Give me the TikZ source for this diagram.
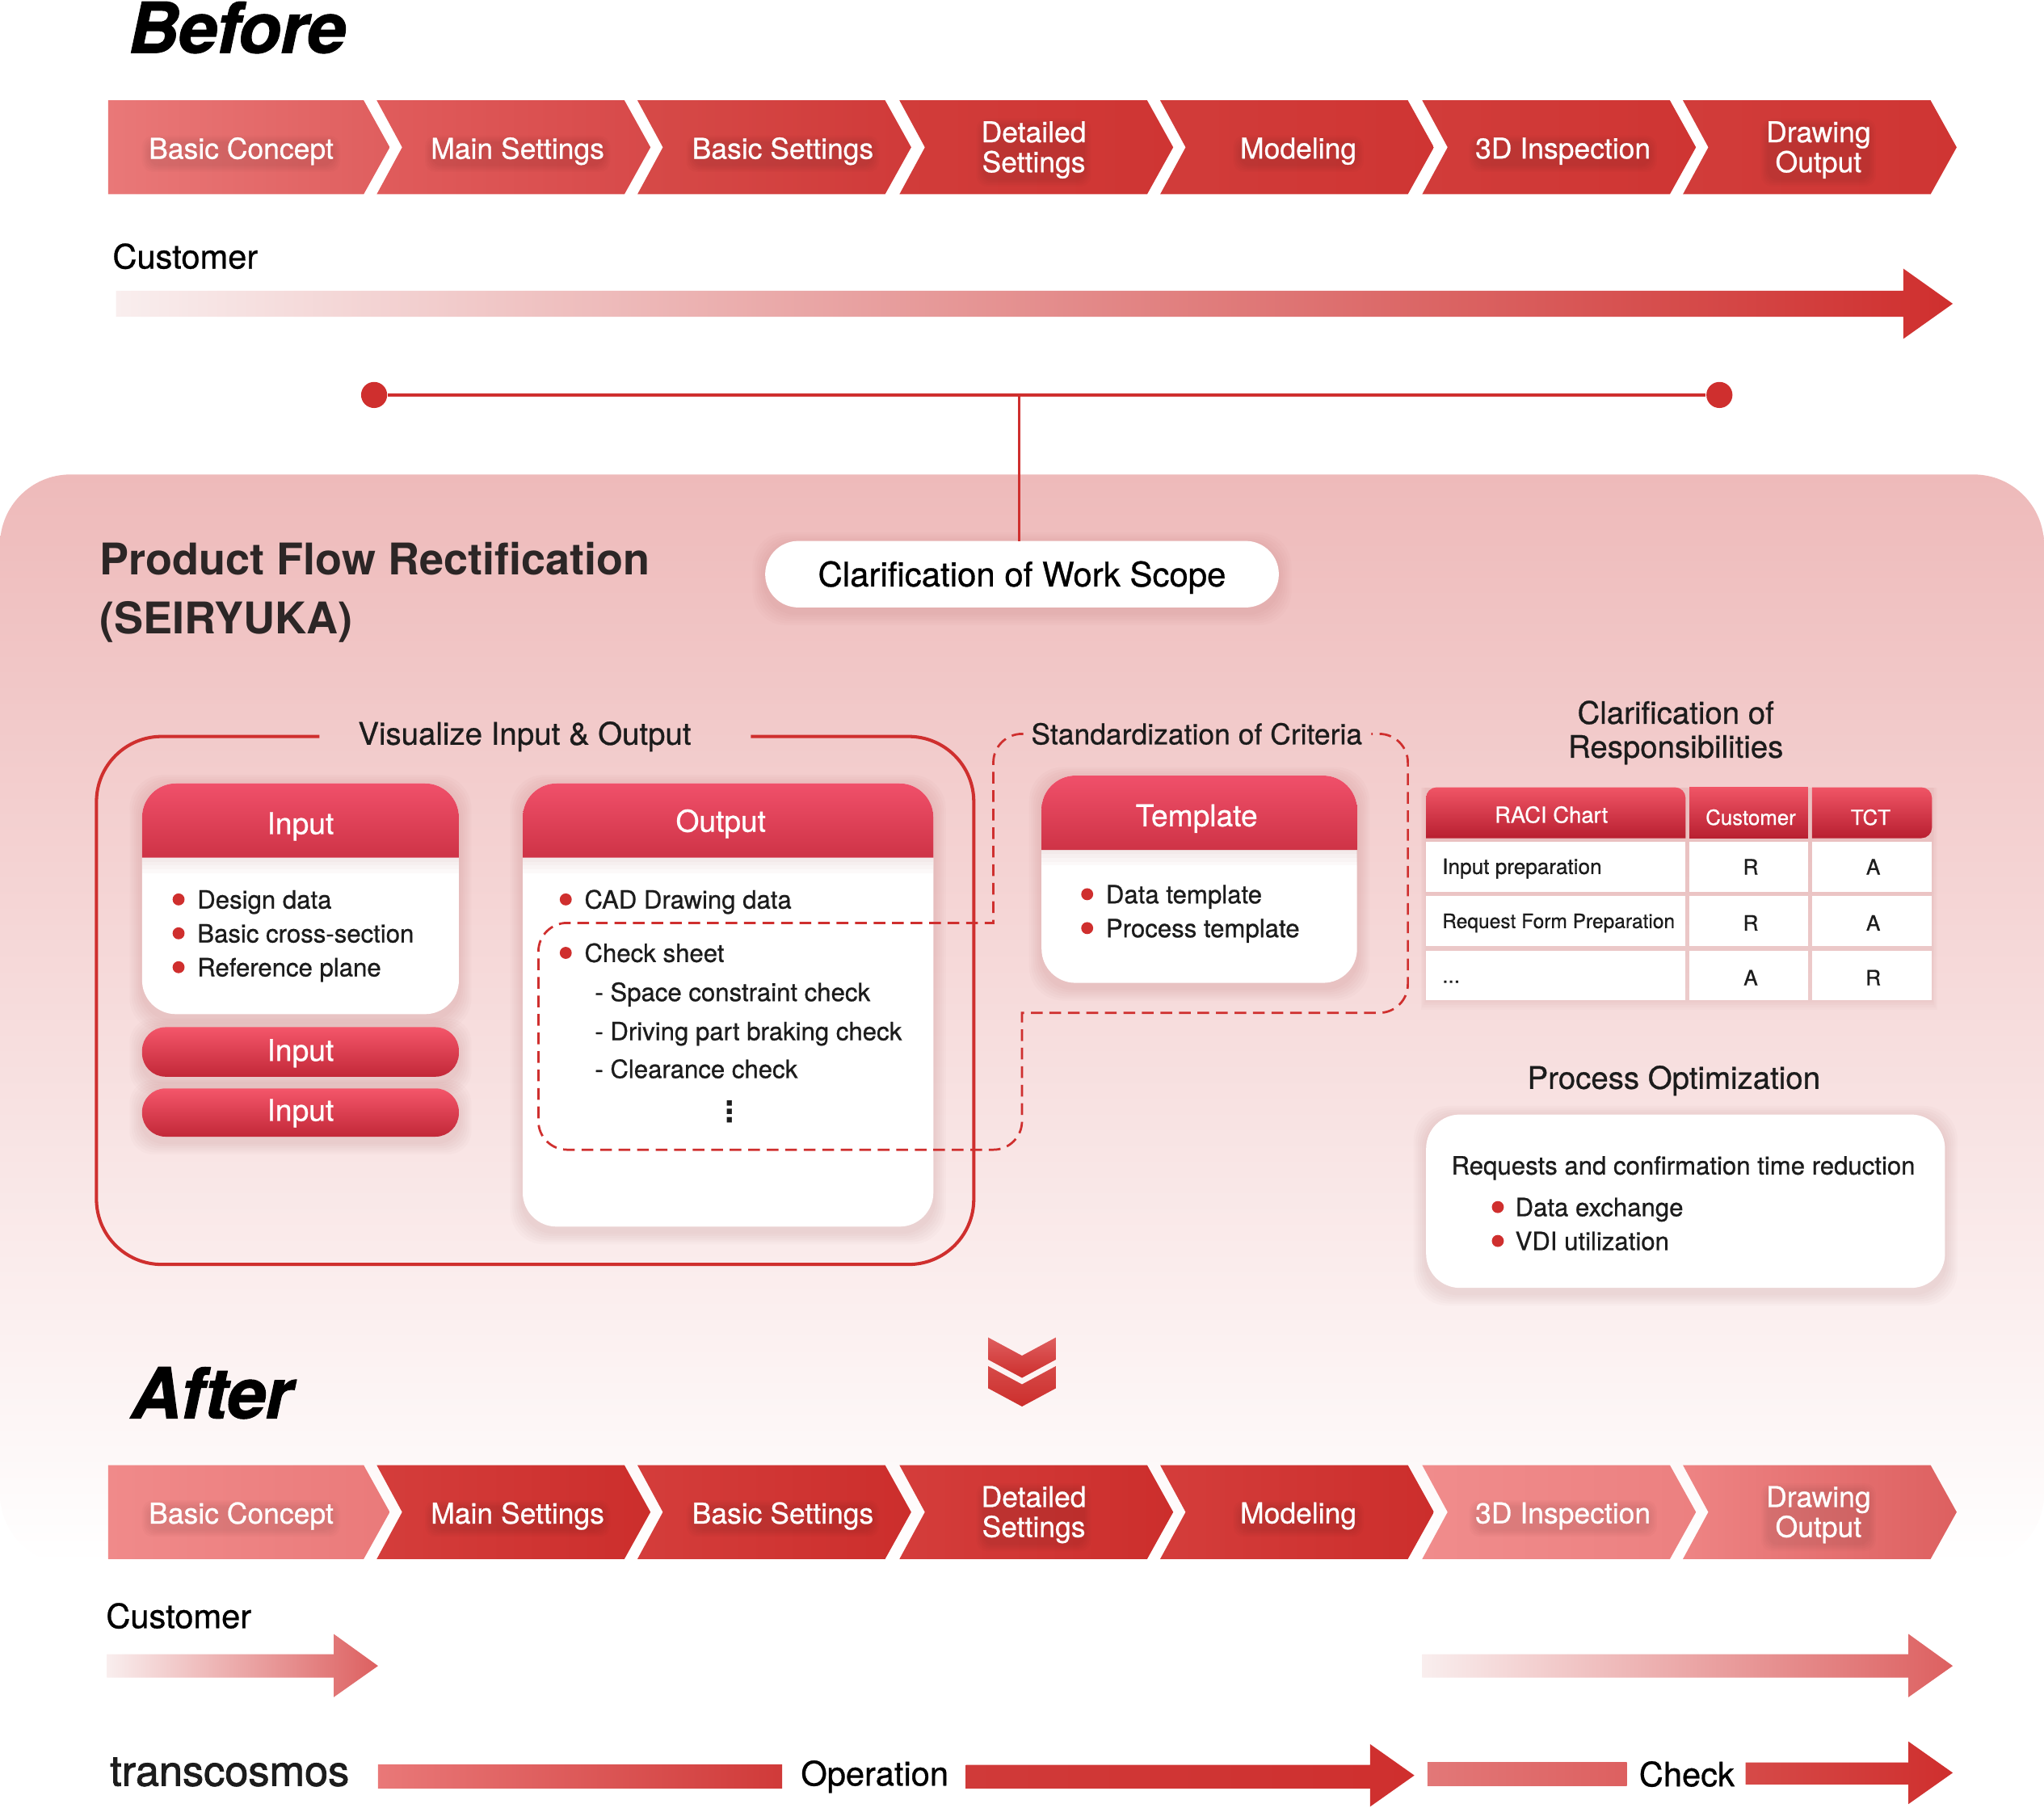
\documentclass[tikz,border=0pt]{standalone}
\usepackage{fontspec}
\setmainfont{TeX Gyre Heros}
\newfontfamily\med{TeX Gyre Heros}[FakeBold=0.7]
\newfontfamily\semi{TeX Gyre Heros}[FakeBold=1.6]
\newfontfamily\heavy{TeX Gyre Heros}[BoldFont={* Bold},BoldFeatures={FakeBold=1.2},ItalicFont={* Bold Italic},ItalicFeatures={FakeBold=1.2,LetterSpace=-1}]
\newfontfamily\dv{DejaVu Sans}
\newcommand\fs[1]{\fontsize{#1}{#1}\selectfont}
\definecolor{red1}{HTML}{CF2F2E}
\definecolor{ink}{HTML}{1C1C1C}
\definecolor{titleink}{HTML}{2C2626}
\definecolor{shad}{HTML}{8A2A2A}
\definecolor{cardb}{HTML}{CE3346}
\definecolor{cardt}{HTML}{F0506A}
\definecolor{pilt}{HTML}{F4566A}
\definecolor{pilb}{HTML}{C22838}
\definecolor{tabt}{HTML}{F05566}
\definecolor{tabb}{HTML}{B81F30}
\definecolor{pt}{HTML}{EEBABA}
\definecolor{pm}{HTML}{F6DCDC}
\definecolor{pale}{HTML}{F9EEEE}
\definecolor{aA}{HTML}{E97878}\definecolor{aB}{HTML}{DF5E5E}
\definecolor{bA}{HTML}{E05C5C}\definecolor{bB}{HTML}{D74949}
\definecolor{cA}{HTML}{D64A48}\definecolor{cB}{HTML}{D03A39}
\definecolor{dA}{HTML}{D13C3A}\definecolor{dB}{HTML}{CF3533}
\definecolor{eA}{HTML}{F08C8C}\definecolor{eB}{HTML}{EA7A7A}
\definecolor{fA}{HTML}{D43D3B}\definecolor{fB}{HTML}{CC2E2C}
\definecolor{gA}{HTML}{F08A8A}\definecolor{gB}{HTML}{EC8080}
\definecolor{hA}{HTML}{EE8484}\definecolor{hB}{HTML}{DD6060}
\tikzset{
  lab/.style={text=ink,inner sep=0pt,font=\med\fs{9.65}},
  labl/.style={lab,anchor=base west},
  chevtext/.style={text=white,inner sep=0pt,align=center,font=\med\fontsize{11}{11.5}\selectfont},
  headtext/.style={text=white,inner sep=0pt,font=\med\fs{11.5}},
  sect/.style={text=ink,inner sep=0pt,align=center,font=\med\fontsize{11.9}{13}\selectfont},
  cust/.style={text=black,inner sep=0pt,anchor=base west,font=\med\fs{12.9}},
  bigt/.style={text=black,inner sep=0pt,anchor=base west,font=\heavy\itshape\fs{26.9}},
  tcell/.style={text=ink,inner sep=0pt,font=\med\fs{8.1}},
  dotn/.style={circle,fill=red1,inner sep=0pt,minimum size=10pt},
  redline/.style={draw=red1,line width=1.25pt},
  dashline/.style={draw=red1,line width=0.85pt,dash pattern=on 4.5pt off 2.6pt},
}
% chevrons: left x, mid y, colours
\newcommand\chev[4]{%
  \shade[left color=#3,right color=#4] (#1,#2-36) -- (#1+190,#2-36) -- (#1+210,#2) -- (#1+190,#2+36) -- (#1,#2+36) -- (#1+19.5,#2) -- cycle;}
\newcommand\chevf[4]{%
  \shade[left color=#3,right color=#4] (#1,#2-36) -- (#1+196,#2-36) -- (#1+216,#2) -- (#1+196,#2+36) -- (#1,#2+36) -- cycle;}
% soft glow behind chevron text: name, cx, cy, half width, half height, text
\newcommand\ctext[6]{%
  \foreach \i in {1,...,5}{
    \fill[black,opacity=0.014,rounded corners=4pt] (#2-#4-\i*1.2,#3-#5-\i*1.2+2) rectangle (#2+#4+\i*1.2,#3+#5+\i*1.2+2);}
  \node[chevtext] (#1) at (#2,#3) {#6};}
\newcommand\softshad[5]{%
  \foreach \i in {1,...,6}{
    \fill[shad,opacity=0.018,rounded corners=#5] (#1-\i*1.6,#2-\i*1.6+3) rectangle (#3+\i*1.6,#4+\i*1.6+4);}}
\newcommand\whitecard[5]{\softshad{#1}{#2}{#3}{#4}{#5}\fill[white,rounded corners=#5] (#1,#2) rectangle (#3,#4);}
\newcommand\headcard[4]{%
  \shade[top color=cardt,bottom color=cardb] (#1,#4) {[rounded corners=13pt] -- (#1,#2) -- (#3,#2)} -- (#3,#4) -- cycle;
  \foreach \i in {1,...,4}{\fill[shad,opacity=0.025] (#1,#4) rectangle (#3,#4+\i*3);}}
\newcommand\pillcard[4]{\softshad{#1}{#2}{#3}{#4}{9pt}\shade[top color=pilt,bottom color=pilb,rounded corners=9pt] (#1,#2) rectangle (#3,#4);}
\newcommand\bul[2]{\fill[red1] (#1,#2) circle[radius=2.3pt];}
\newcommand\tabcell[4]{\fill[white] (#1,#2) rectangle (#3,#4);}
\newcommand\arrowshape[8]{(#1,#4) -- (#2,#4) -- (#2,#6) -- (#3,#8) -- (#2,#7) -- (#2,#5) -- (#1,#5) -- cycle}
\begin{document}
\begin{tikzpicture}[x=0.5pt,y=-0.5pt]
\useasboundingbox (0,0) rectangle (1568,1387);
% ---------- panel
\shade[top color=pt,middle color=pm,bottom color=white,rounded corners=27pt] (0,364) rectangle (1568,1200);
% ---------- Before
\node[bigt] (before) at (98,40.5) {Before};
\chevf{83}{113}{aA}{aB}
\chev{289}{113}{bA}{bB}
\chev{489}{113}{cA}{cB}
\chev{690}{113}{dA}{dB}
\chev{890}{113}{dA}{dB}
\chev{1091}{113}{dA}{dB}
\chev{1291}{113}{dA}{dB}
\ctext{b1}{185}{116}{70}{8}{Basic Concept}
\ctext{b2}{397}{116}{65}{8}{Main Settings}
\ctext{b3}{600.5}{116}{68}{8}{Basic Settings}
\ctext{b4}{793}{115}{38}{20}{Detailed\\Settings}
\ctext{b5}{996}{116}{44}{8}{Modeling}
\ctext{b6}{1199}{116}{66}{8}{3D Inspection}
\ctext{b7}{1395}{115}{38}{20}{Drawing\\Output}
\node[cust] (cust1) at (86,206) {Customer};
\shade[left color=pale,middle color=red1!50!white,right color=red1] \arrowshape{89}{1460}{1498}{223}{243}{206}{260}{233};
% ---------- connector
\node[dotn] (d1) at (287,303) {};
\node[dotn] (d2) at (1319,303) {};
\coordinate (j) at (782,303);
\draw[redline] (d1) -- (d2);
% ---------- pill
\whitecard{587}{415}{981}{466}{12.7pt}
\node[text=black,inner sep=0pt,font=\med\fs{13}] (scope) at (784,443) {Clarification of Work Scope};
\coordinate (scopeTop) at (782,415);
\draw[draw=red1,line width=1pt] (j) -- (scopeTop);
% ---------- title
\node[text=titleink,inner sep=0pt,anchor=base west,font=\bfseries\fs{16.75}] (t1) at (76,441) {Product Flow Rectification};
\node[text=titleink,inner sep=0pt,anchor=base west,font=\bfseries\fs{16.75}] (t2) at (76,486) {(SEIRYUKA)};
% ---------- visualize frame
\draw[redline,rounded corners=25pt] (245,565) -- (74,565) -- (74,970) -- (747,970) -- (747,565) -- (576,565);
\node[sect] (vis) at (402.5,565) {Visualize Input \& Output};
% input card
\whitecard{109}{601}{352}{778}{13pt}
\headcard{109}{601}{352}{658}
\node[headtext] (in1) at (230.5,634) {Input};
\bul{137}{690}\bul{137}{716}\bul{137}{742}
\node[labl] (i1) at (151,697) {Design data};
\node[labl] (i2) at (151,723) {Basic cross-section};
\node[labl] (i3) at (151,749) {Reference plane};
\pillcard{109}{788}{352}{826}
\node[headtext] (in2) at (230.5,808) {Input};
\pillcard{109}{835}{352}{872}
\node[headtext] (in3) at (230.5,854) {Input};
% output card
\whitecard{401}{601}{716}{941}{13pt}
\headcard{401}{601}{716}{658}
\node[headtext] (out) at (553,632) {Output};
\bul{434}{690}\bul{434}{731}
\node[labl] (o1) at (448,697) {CAD Drawing data};
\node[labl] (o2) at (448,738) {Check sheet};
\node[labl] (o3) at (456,768) {- Space constraint check};
\node[labl] (o4) at (456,798) {- Driving part braking check};
\node[labl] (o5) at (456,827) {- Clearance check};
\node[text=ink,inner sep=0pt,font=\dv\bfseries\fs{11}] (o6) at (560,853) {⋮};
% template
\whitecard{799}{595}{1041}{754}{13pt}
\headcard{799}{595}{1041}{652}
\node[headtext] (tmp) at (918,628) {Template};
\bul{834}{686}\bul{834}{712}
\node[labl] (t3) at (848,693) {Data template};
\node[labl] (t4) at (848,719) {Process template};
% dashed
\draw[dashline] (785,563) {[rounded corners=11pt] -- (762,563) -- (762,640)} -- (762,708) {[rounded corners=11pt] -- (413,708) -- (413,882) -- (784,882) -- (784,820)} -- (784,777) {[rounded corners=11pt] -- (1080,777) -- (1080,563) -- (1052,563)};
\node[sect,font=\med\fs{11}] (std) at (918,563) {Standardization of Criteria};
% ---------- RACI
\node[sect] (cla) at (1285.5,562) {Clarification of\\Responsibilities};
\foreach \i in {1,...,4}{\fill[shad,opacity=0.018] (1094-\i,604) rectangle (1482+\i,767+\i*2);}
\shade[top color=tabt,bottom color=tabb] (1293,643) -- (1094,643) {[rounded corners=4pt] -- (1094,604) -- (1293,604)} -- cycle;
\shade[top color=tabt,bottom color=tabb] (1296,604) rectangle (1387,643);
\shade[top color=tabt,bottom color=tabb] (1390,643) -- (1390,604) {[rounded corners=4pt] -- (1482,604) -- (1482,643)} -- cycle;
\node[text=white,inner sep=0pt,font=\med\fs{8.5}] (h1) at (1190,625) {RACI Chart};
\node[text=white,inner sep=0pt,font=\med\fs{8}] (h2) at (1343,627) {Customer};
\node[text=white,inner sep=0pt,font=\med\fs{8}] (h3) at (1435,627) {TCT};
\tabcell{1094}{646}{1293}{684}\tabcell{1296}{646}{1387}{684}\tabcell{1390}{646}{1482}{684}
\tabcell{1094}{687}{1293}{726}\tabcell{1296}{687}{1387}{726}\tabcell{1390}{687}{1482}{726}
\tabcell{1094}{729.5}{1293}{767}\tabcell{1296}{729.5}{1387}{767}\tabcell{1390}{729.5}{1482}{767}
\node[tcell,anchor=base west] (r1) at (1106,670.5) {Input preparation};
\node[tcell,anchor=base west,font=\med\fs{7.6}] (r2) at (1106,712) {Request Form Preparation};
\node[tcell,anchor=base west] (r3) at (1106,754) {...};
\node[tcell] (c11) at (1343,665) {R};\node[tcell] (c12) at (1437,665) {A};
\node[tcell] (c21) at (1343,708) {R};\node[tcell] (c22) at (1437,708) {A};
\node[tcell] (c31) at (1343,750) {A};\node[tcell] (c32) at (1437,750) {R};
% ---------- process optimization
\node[sect] (pro) at (1284,829) {Process Optimization};
\whitecard{1094}{855}{1492}{988}{13pt}
\node[labl] (p1) at (1113,901) {Requests and confirmation time reduction};
\bul{1149}{926}\bul{1149}{952}
\node[labl] (p2) at (1162,933) {Data exchange};
\node[labl] (p3) at (1162,959) {VDI utilization};
% ---------- double chevron
\shade[top color=aB,bottom color=fB] (758,1026) -- (784,1040) -- (810,1026) -- (810,1043) -- (784,1057) -- (758,1043) -- cycle;
\shade[top color=cA,bottom color=fB] (758,1048) -- (784,1062) -- (810,1048) -- (810,1065) -- (784,1079) -- (758,1065) -- cycle;
% ---------- After
\node[bigt] (after) at (100,1088) {After};
\chevf{83}{1160}{gA}{eB}
\chev{289}{1160}{fA}{fB}
\chev{489}{1160}{fA}{fB}
\chev{690}{1160}{fA}{fB}
\chev{890}{1160}{fA}{fB}
\chev{1091}{1160}{eA}{gB}
\chev{1291}{1160}{hA}{hB}
\ctext{a1}{185}{1163}{70}{8}{Basic Concept}
\ctext{a2}{397}{1163}{65}{8}{Main Settings}
\ctext{a3}{600.5}{1163}{68}{8}{Basic Settings}
\ctext{a4}{793}{1162}{38}{20}{Detailed\\Settings}
\ctext{a5}{996}{1163}{44}{8}{Modeling}
\ctext{a6}{1199}{1163}{66}{8}{3D Inspection}
\ctext{a7}{1395}{1162}{38}{20}{Drawing\\Output}
\node[cust] (cust2) at (81,1249) {Customer};
\shade[left color=pale,right color=hB] \arrowshape{82}{256}{290}{1269}{1287}{1253.5}{1302}{1278};
\shade[left color=pale,right color=hB] \arrowshape{1091}{1464}{1498}{1269}{1287}{1253.5}{1302}{1278};
\node[text=ink,inner sep=0pt,anchor=base west,font=\semi\fs{16.2}] (tc) at (84,1370) {transcosmos};
\shade[left color=aA,right color=cB] (290,1354) rectangle (600,1372);
\node[cust,anchor=center] (op) at (671,1363) {Operation};
\shade[left color=cB,right color=red1] \arrowshape{741}{1051}{1085}{1354}{1372}{1338}{1386}{1362};
\shade[left color=hB!85!white,right color=hB] (1095,1352) rectangle (1248,1370);
\node[cust,anchor=center] (chk) at (1294,1361) {Check};
\shade[left color=cA,right color=red1] \arrowshape{1339}{1464}{1498}{1352}{1369}{1336}{1384}{1360};
\end{tikzpicture}
\end{document}
